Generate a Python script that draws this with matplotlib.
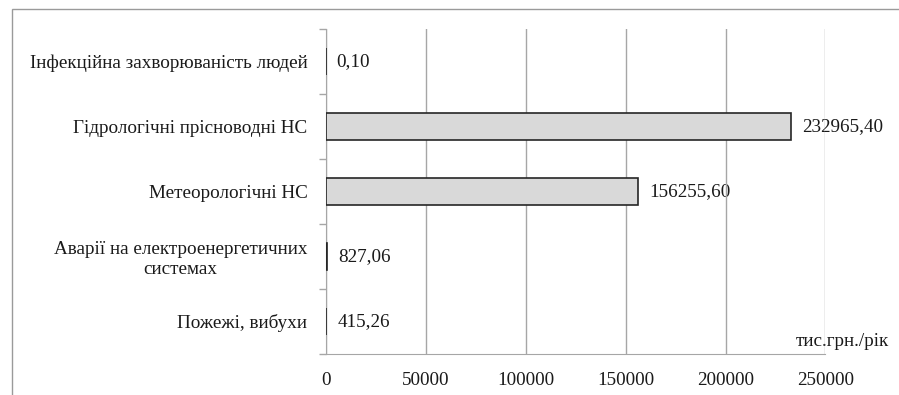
import matplotlib
matplotlib.use("Agg")
import matplotlib.pyplot as plt
from matplotlib.patches import Rectangle

plt.rcParams['font.family'] = ['Liberation Serif', 'DejaVu Serif']

categories = [
    "Пожежі, вибухи",
    "Аварії на електроенергетичних\nсистемах",
    "Метеорологічні НС",
    "Гідрологічні прісноводні НС",
    "Інфекційна захворюваність людей",
]
values = [415.26, 827.06, 156255.60, 232965.40, 0.10]
value_labels = ["415,26", "827,06", "156255,60", "232965,40", "0,10"]
xticks = [0, 50000, 100000, 150000, 200000, 250000]
unit_label = "тис.грн./рік"

W, H = 899, 395
FS = 13.8
TXT = '#1a1a1a'
fig = plt.figure(figsize=(W / 100, H / 100), dpi=100)

# outer chart frame
fig.add_artist(Rectangle((12 / W, -0.1), 1.2, (H - 9) / H + 0.1,
                         transform=fig.transFigure, fill=False,
                         edgecolor='#9a9a9a', linewidth=1.0))

ax = fig.add_axes([325.5 / W, (H - 354) / H, 500 / W, 325 / H])
grid_c = '#a6a6a6'

y = list(range(len(categories)))
ax.barh(y, values, height=0.41, color='#d9d9d9', edgecolor='#262626',
        linewidth=1.2, zorder=3)

for yi, v, lab in zip(y, values, value_labels):
    ax.annotate(lab, (v, yi), xytext=(8, 0), textcoords='offset points',
                va='center', ha='left', fontsize=FS, color=TXT, zorder=1)

ax.set_xlim(0, 250000)
ax.set_ylim(-0.5, len(categories) - 0.5)
ax.set_xticks(xticks)
ax.set_xticklabels([str(t) for t in xticks], fontsize=FS, color=TXT)
ax.set_yticks(y)
ax.set_yticklabels(categories, fontsize=FS, color=TXT, ha='right',
                   multialignment='center')
ax.set_yticks([i - 0.5 for i in range(len(categories) + 1)], minor=True)
ax.tick_params(axis='y', which='major', length=0, pad=13)
ax.tick_params(axis='y', which='minor', length=5, color=grid_c, width=1)
ax.tick_params(axis='x', length=0, pad=13)

ax.grid(axis='x', color=grid_c, linewidth=1, zorder=2)
ax.set_axisbelow(False)
for s in ['top', 'right']:
    ax.spines[s].set_visible(False)
ax.spines['left'].set_color(grid_c)
ax.spines['bottom'].set_color(grid_c)

ax.text(470 / 500, 0.012, unit_label, transform=ax.transAxes, ha='left',
        va='bottom', fontsize=FS, color=TXT, zorder=1, clip_on=False)

fig.savefig("out.png", dpi=100)
